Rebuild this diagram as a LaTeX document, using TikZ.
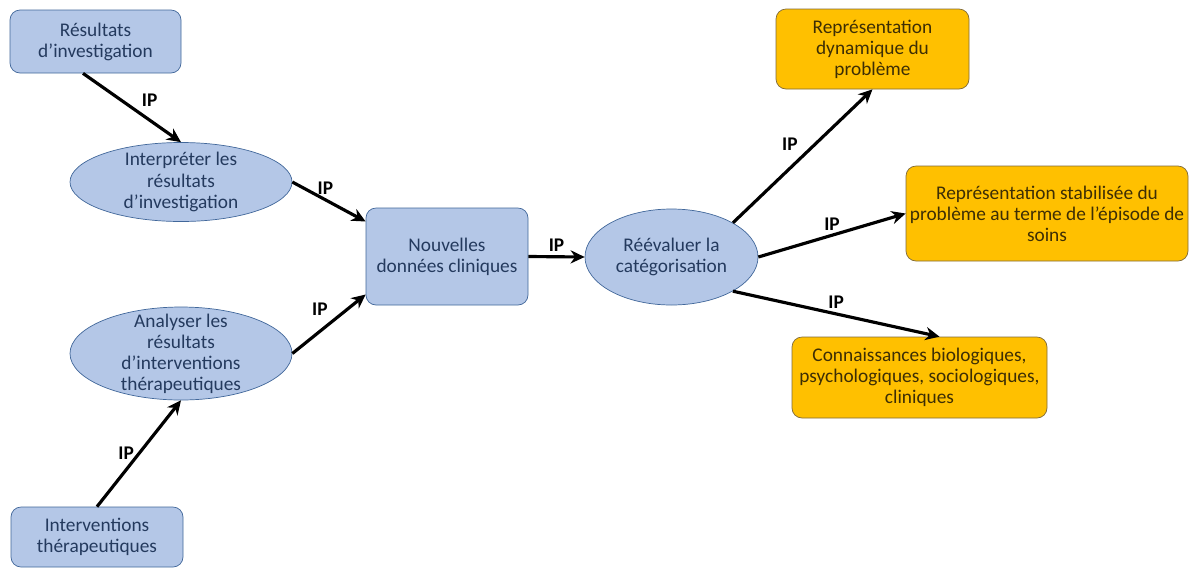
\documentclass[tikz,border=0pt]{standalone}
\usepackage{fontspec}
\setmainfont{Carlito}
\usetikzlibrary{shapes.geometric,arrows.meta}

\definecolor{boxblue}{HTML}{B4C7E7}
\definecolor{edgeblue}{HTML}{41679A}
\definecolor{textblue}{HTML}{243A5E}
\definecolor{boxorange}{HTML}{FFC000}
\definecolor{edgeorange}{HTML}{7F6A3A}
\definecolor{textbrown}{HTML}{3D2E05}

\tikzstyle{blue_box} = [rectangle, rounded corners=0.2cm, inner sep=0pt, align=center, draw=edgeblue, fill=boxblue, text=textblue, font=\fontsize{11}{12}\selectfont]
\tikzstyle{blue_oval} = [ellipse, inner xsep=0pt, inner ysep=-8pt, align=center, draw=edgeblue, fill=boxblue, text=textblue, font=\fontsize{11}{12}\selectfont]
\tikzstyle{orange_box} = [rectangle, rounded corners=0.2cm, inner sep=0pt, align=center, draw=edgeorange, fill=boxorange, text=textbrown, font=\fontsize{11}{12}\selectfont]
\tikzstyle{arrow} = [line width=1.8pt,-{Stealth[length=8pt,width=7.5pt]}]
\tikzstyle{ip} = [font=\fontsize{11}{12}\selectfont\bfseries, inner sep=2pt]

\begin{document}
\begin{tikzpicture}
        \useasboundingbox (0,0) rectangle (23.8,-11.36);

        \node (res) [blue_box, minimum width=3.42cm, minimum height=1.26cm] at (1.91,-0.83) {Résultats\\d’investigation};
        \node (interp) [blue_oval, minimum width=4.44cm, minimum height=1.58cm] at (3.62,-3.64) {Interpréter les\\résultats\\d’investigation};
        \node (analy) [blue_oval, minimum width=4.44cm, minimum height=1.86cm] at (3.62,-7.07) {Analyser les\\résultats\\d’interventions\\thérapeutiques};
        \node (interv) [blue_box, minimum width=3.44cm, minimum height=1.2cm] at (1.94,-10.74) {Interventions\\thérapeutiques};
        \node (nouv) [blue_box, minimum width=3.24cm, minimum height=1.94cm] at (8.94,-5.13) {Nouvelles\\données cliniques};
        \node (reeval) [blue_oval, minimum width=3.46cm, minimum height=1.92cm] at (13.43,-5.14) {Réévaluer la\\catégorisation};
        \node (rep_dyn) [orange_box, minimum width=3.86cm, minimum height=1.6cm] at (17.45,-0.98) {Représentation\\dynamique du\\problème};
        \node (rep_stab) [orange_box, minimum width=5.64cm, minimum height=1.9cm] at (20.94,-4.27) {Représentation stabilisée du\\problème au terme de l’épisode de\\soins};
        \node (conn) [orange_box, minimum width=5.1cm, minimum height=1.62cm] at (18.39,-7.55) {Connaissances biologiques,\\psychologiques, sociologiques,\\cliniques};

        \draw [arrow] ([xshift=-0.25cm]res.south) -- node[ip, above right, pos=0.55] {IP} (interp.north);
        \draw [arrow] (interp.east) -- node[ip, above, pos=0.45] {IP} ([yshift=0.7cm]nouv.west);
        \draw [arrow] (analy.east) -- node[ip, above left, pos=0.55] {IP} ([yshift=-0.76cm]nouv.west);
        \draw [arrow] (interv.north) -- node[ip, left, pos=0.5] {IP} (analy.south);
        \draw [arrow] (nouv.east) -- node[ip, above] {IP} (reeval.west);
        \draw [arrow] (reeval.north east) -- node[ip, above left, pos=0.5] {IP} (rep_dyn.south);
        \draw [arrow] (reeval.east) -- node[ip, above, pos=0.5] {IP} (rep_stab.west);
        \draw [arrow] (reeval.south east) -- node[ip, above, pos=0.5] {IP} ([xshift=0.4cm]conn.north);
    \end{tikzpicture}
\end{document}
